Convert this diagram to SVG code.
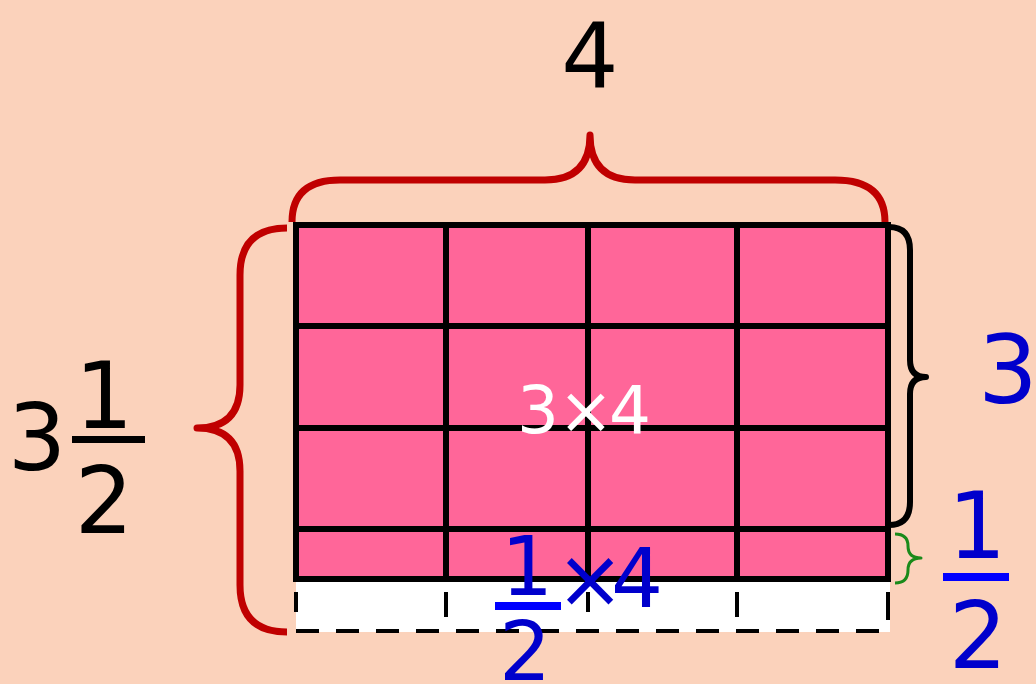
<svg xmlns="http://www.w3.org/2000/svg" width="1036" height="684" viewBox="0 0 1036 684">
<style>
.t{font-family:"DejaVu Sans","Liberation Sans",sans-serif;}
.blk{fill:#000}
.blu{fill:#0000CC}
.wht{fill:#fff}
.cell{fill:#FF6699;stroke:#000;stroke-width:6}
.brace{fill:none;stroke-linecap:butt;stroke-linejoin:round}
</style>
<rect width="1036" height="684" fill="#FBD2BB"/>
<g id="white-strip">
<rect x="296" y="579" width="594" height="53" fill="#fff"/>
<line x1="296" y1="631" x2="888" y2="631" stroke="#000" stroke-width="4" stroke-dasharray="23 17"/>
<g stroke="#000" stroke-width="4">
<line x1="296" y1="592" x2="296" y2="612"/>
<line x1="446" y1="592" x2="446" y2="617"/>
<line x1="588" y1="592" x2="588" y2="612"/>
<line x1="737" y1="592" x2="737" y2="617"/>
<line x1="888" y1="592" x2="888" y2="620"/>
</g>
</g>
<g id="grid">
<rect class="cell" x="296" y="225" width="592" height="354"/>
<g stroke="#000" stroke-width="6">
<line x1="296" y1="326" x2="888" y2="326"/>
<line x1="296" y1="428" x2="888" y2="428"/>
<line x1="296" y1="529" x2="888" y2="529"/>
<line x1="446" y1="225" x2="446" y2="579"/>
<line x1="588" y1="225" x2="588" y2="579"/>
<line x1="737" y1="225" x2="737" y2="579"/>
</g>
</g>
<g id="connectors">
<path id="brace-top" class="brace" stroke="#C00000" stroke-width="7" d="M292 222 Q292 180 340 180 L545 180 Q590 180 590 135 Q590 180 635 180 L835 180 Q885 180 885 222"/>
<path id="brace-left" class="brace" stroke="#C00000" stroke-width="7" d="M287 228 Q240 228 240 275 L240 385 Q240 428 197 428 Q240 428 240 471 L240 585 Q240 632 287 632"/>
<path id="brace-right" class="brace" stroke="#000" stroke-width="6" d="M889 227 Q910 227 910 250 L910 360 Q910 377 926 377 Q910 377 910 394 L910 502 Q910 525 889 525"/>
<path id="brace-half" class="brace" stroke="#1A8A1A" stroke-width="3" d="M895 534 Q908 534 908 546 Q908 558 921 558 Q908 558 908 570 Q908 583 895 583"/>
</g>
<g id="label-4">
<text class="t blk" x="590" y="88" font-size="90" text-anchor="middle">4</text>
</g>
<g id="label-3-half">
<text class="t blk" x="37" y="470" font-size="92" text-anchor="middle">3</text>
<text class="t blk" x="104" y="428" font-size="92" text-anchor="middle">1</text>
<rect x="72" y="436" width="73" height="7" fill="#000"/>
<text class="t blk" x="104" y="533" font-size="92" text-anchor="middle">2</text>
</g>
<g id="label-3">
<text class="t blu" x="1008" y="403" font-size="94" text-anchor="middle">3</text>
</g>
<g id="label-half">
<text class="t blu" x="977" y="558" font-size="92" text-anchor="middle">1</text>
<rect x="943" y="573" width="66" height="8" fill="#0000FF"/>
<text class="t blu" x="978" y="668" font-size="92" text-anchor="middle">2</text>
</g>
<g id="label-3x4">
<text class="t wht" y="433" font-size="66" text-anchor="middle"><tspan x="538">3</tspan><tspan x="586">×</tspan><tspan x="630">4</tspan></text>
</g>
<g id="label-half-x4">
<text class="t blu" x="527" y="595" font-size="82" text-anchor="middle">1</text>
<rect x="495" y="602" width="66" height="8" fill="#0000FF"/>
<text class="t blu" x="525" y="680" font-size="82" text-anchor="middle">2</text>
<text class="t blu" y="607" font-size="82" text-anchor="middle"><tspan x="590">×</tspan><tspan x="637">4</tspan></text>
</g>
</svg>
